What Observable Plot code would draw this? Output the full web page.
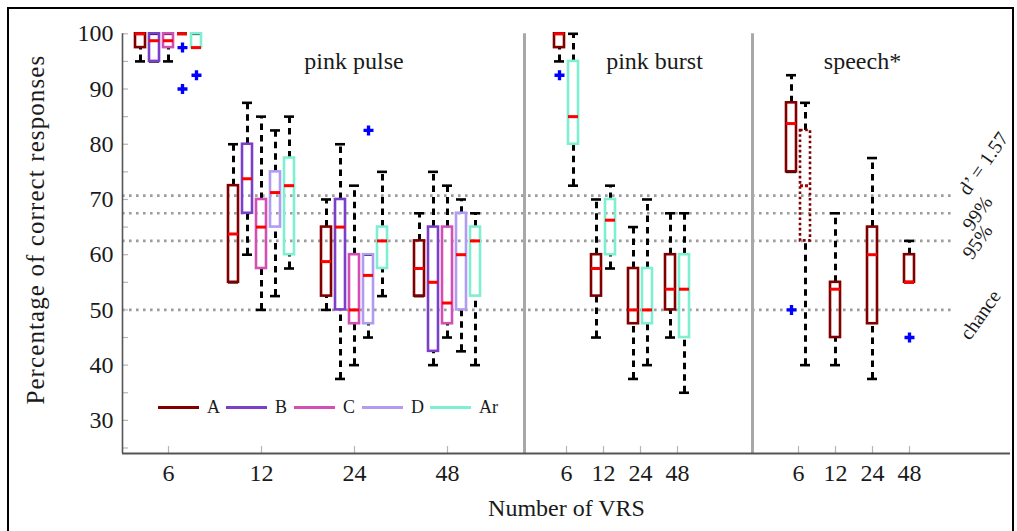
<!DOCTYPE html>
<html><head><meta charset="utf-8">
<script src="https://cdn.jsdelivr.net/npm/d3@7"></script>
<script src="https://cdn.jsdelivr.net/npm/@observablehq/plot@0.6"></script>
<style>
body{margin:0;background:#fff;}
#wrap{position:relative;width:1017px;height:531px;overflow:hidden;font-family:"Liberation Serif",serif;color:#1a1a1a;}
#chart{position:absolute;left:0;top:0;}
#border{position:absolute;left:7px;top:7px;width:1003px;height:600px;border:2.5px solid #000;pointer-events:none;}
.leg{position:absolute;display:flex;align-items:center;font-size:18px;line-height:18px;}
.leg svg{margin-right:8px;}
</style></head><body>
<div id="wrap"><div id="chart"></div><div id="border"></div><div id="legend"></div></div>
<script>
// ---------- data ----------
const vrsLabels = ["6", "12", "24", "48"];
const panelNames = ["pink pulse", "pink burst", "speech*"];
const seriesNames = ["A", "B", "C", "D", "Ar"];
const seriesColors = ["#800000", "#7b3fc8", "#d34fb4", "#b29cf2", "#7fefd2"];

// five-number summaries [min, q1, median, q3, max] per VRS (6, 12, 24, 48)
const pulseA  = [[95, 97.5, 100, 100, 100], [55, 55, 63.75, 72.5, 80], [50, 52.5, 58.75, 65, 70], [52.5, 52.5, 57.5, 62.5, 67.5]];
const pulseB  = [[95, 95, 98.75, 100, 100], [60, 67.5, 73.75, 80, 87.5], [37.5, 50, 65, 70, 80], [40, 42.5, 55, 65, 75]];
const pulseC  = [[95, 97.5, 98.75, 100, 100], [50, 57.5, 65, 70, 85], [40, 47.5, 50, 60, 72.5], [45, 47.5, 51.25, 65, 72.5]];
const pulseD  = [[100, 100, 100, 100, 100], [52.5, 65, 71.25, 75, 82.5], [45, 47.5, 56.25, 60, 60], [42.5, 50, 60, 67.5, 70]];
const pulseAr = [[97.5, 97.5, 97.5, 100, 100], [57.5, 60, 72.5, 77.5, 85], [52.5, 57.5, 62.5, 65, 75], [40, 52.5, 62.5, 65, 67.5]];
const burstA  = [[95, 97.5, 100, 100, 100], [45, 52.5, 57.5, 60, 70], [37.5, 47.5, 50, 57.5, 65], [45, 50, 53.75, 60, 67.5]];
const burstAr = [[72.5, 80, 85, 95, 100], [57.5, 60, 66.25, 70, 72.5], [40, 47.5, 50, 57.5, 70], [35, 45, 53.75, 60, 67.5]];
const speechA = [[75, 75, 83.75, 87.5, 92.5], [40, 45, 53.75, 55, 67.5], [37.5, 47.5, 60, 65, 77.5], [55, 55, 55, 60, 62.5]];
const speechA6Dotted = [40, 62.5, 72.5, 82.5, 87.5];

// outliers: [panel, vrs index, series, value]
const outliers = [
  [0, 0, "D", 97.5], [0, 0, "D", 90], [0, 0, "Ar", 92.5], [0, 2, "D", 82.5],
  [1, 0, "A", 92.5],
  [2, 0, "A", 50], [2, 3, "A", 45]
];

const refValues = [70.7, 67.5, 62.5, 50];
const refLabels = ["d\u2019 = 1.57", "99%", "95%", "chance"];
const yTicks = [30, 40, 50, 60, 70, 80, 90, 100];
const yMinorTicks = [25, 30, 35, 40, 45, 50, 55, 60, 65, 70, 75, 80, 85, 90, 95, 100];

// ---------- layout (x in panel units) ----------
const panelLayout = [
  {start: 0,   first: 46, step: 93, titleAt: 231.5},
  {start: 402, first: 42, step: 37, titleAt: 130},
  {start: 630, first: 46, step: 37, titleAt: 110}
];
const xEnd = 888, refEnd = 833, halfBox = 5, boxStep = 14;
const groupX = (p, i) => panelLayout[p].start + panelLayout[p].first + i * panelLayout[p].step;
const colorOf = name => seriesColors[seriesNames.indexOf(name)];

const boxes = [];
function addSeries(p, name, stats, offsetFn, dotted = false) {
  stats.forEach((s, i) => {
    const c = groupX(p, i) + offsetFn(i);
    boxes.push({p, i, name, c, min: s[0], q1: s[1], med: s[2], q3: s[3], max: s[4], color: colorOf(name), dotted});
  });
}
[pulseA, pulseB, pulseC, pulseD, pulseAr].forEach((arr, k) => addSeries(0, seriesNames[k], arr, () => (k - 2) * boxStep));
addSeries(1, "A", burstA, () => -boxStep / 2);
addSeries(1, "Ar", burstAr, () => boxStep / 2);
addSeries(2, "A", speechA, i => i === 0 ? -boxStep / 2 : 0);
addSeries(2, "A", [speechA6Dotted], () => boxStep / 2, true);

const boxCenter = (p, i, name) => boxes.find(d => d.p === p && d.i === i && d.name === name && !d.dotted).c;
const outlierRows = outliers.map(([p, i, name, v]) => ({x: boxCenter(p, i, name), y: v}));

const whiskers = [];
const caps = [];
boxes.forEach(b => {
  if (b.max > b.q3) whiskers.push({x: b.c, y1: b.q3, y2: b.max});
  if (b.min < b.q1) whiskers.push({x: b.c, y1: b.min, y2: b.q1});
  caps.push({x1: b.c - halfBox, x2: b.c + halfBox, y: b.max});
  caps.push({x1: b.c - halfBox, x2: b.c + halfBox, y: b.min});
});

const tickRows = [];
panelLayout.forEach((pl, p) => vrsLabels.forEach((lab, i) => tickRows.push({x: groupX(p, i), label: lab})));
const tickLabelMap = new Map(tickRows.map(d => [d.x, d.label]));
const dividers = [panelLayout[1].start, panelLayout[2].start];
const titles = panelNames.map((n, p) => ({x: panelLayout[p].start + panelLayout[p].titleAt, text: n}));

const refLabelStyle = [
  {dx: 6, dy: -32}, {dx: 0, dy: 0}, {dx: 0, dy: 1}, {dx: 3, dy: 5}
];

const solid = boxes.filter(b => !b.dotted), dotted = boxes.filter(b => b.dotted);
const tickLenY = 7 * 76 / 419.7;

const chart = Plot.plot({
  width: 1017, height: 531,
  marginLeft: 122, marginRight: 7, marginTop: 33.3, marginBottom: 78,
  x: {domain: [0, xEnd], axis: null},
  y: {domain: [24, 100], axis: null},
  style: {fontFamily: '"Liberation Serif", serif', fontSize: "24px", color: "#1a1a1a", background: "transparent"},
  marks: [
    // reference lines
    Plot.ruleY(refValues, {y: d => d, x1: 0, x2: refEnd, stroke: "#9c9c9c", strokeWidth: 2.6, strokeDasharray: "2.6,4.4"}),
    ...refLabels.map((t, k) => Plot.text([t], {x: 855, y: () => refValues[k], text: d => d, rotate: -55, fontSize: 20,
      dx: refLabelStyle[k].dx, dy: refLabelStyle[k].dy, fill: "#1a1a1a"})),
    // panel dividers
    Plot.ruleX(dividers, {x: d => d, y1: 24, y2: 100, stroke: "#a8a8a8", strokeWidth: 3}),
    // y minor/major ticks (inward)
    Plot.ruleY(yMinorTicks, {y: d => d, x1: 0, x2: 6, stroke: "#b5b5b5", strokeWidth: 1.2}),
    // x ticks (inward)
    Plot.ruleX(tickRows, {x: "x", y1: 24, y2: 24 + tickLenY, stroke: "#b5b5b5", strokeWidth: 1.2}),
    // axes lines
    Plot.ruleX([0], {y1: 24, y2: 100, stroke: "#555", strokeWidth: 1.6}),
    Plot.ruleY([24], {x1: 0, x2: xEnd, stroke: "#555", strokeWidth: 2}),
    Plot.axisY({ticks: yTicks, tickSize: 0, tickPadding: 9, fontSize: 24, label: null}),
    Plot.axisX({ticks: tickRows.map(d => d.x), tickFormat: d => tickLabelMap.get(d), tickSize: 0, tickPadding: 10, fontSize: 24, label: null}),
    // whiskers
    Plot.ruleX(whiskers, {x: "x", y1: "y1", y2: "y2", stroke: "#000", strokeWidth: 3, strokeDasharray: "6.5,5"}),
    Plot.ruleY(caps, {x1: "x1", x2: "x2", y: "y", stroke: "#000", strokeWidth: 2.6}),
    // boxes
    Plot.rect(solid, {x1: d => d.c - halfBox, x2: d => d.c + halfBox, y1: "q1", y2: "q3", stroke: "color", fill: "none", strokeWidth: 2.6}),
    Plot.rect(dotted, {x1: d => d.c - halfBox, x2: d => d.c + halfBox, y1: "q1", y2: "q3", stroke: "color", fill: "none", strokeWidth: 2.6, strokeDasharray: "2.6,2.6"}),
    Plot.ruleY(solid, {x1: d => d.c - halfBox, x2: d => d.c + halfBox, y: "med", stroke: "#ff0000", strokeWidth: 3}),
    Plot.ruleY(dotted, {x1: d => d.c - halfBox, x2: d => d.c + halfBox, y: "med", stroke: "#b00000", strokeWidth: 3, strokeDasharray: "3,2"}),
    // outliers
    Plot.dot(outlierRows, {x: "x", y: "y", symbol: "cross", fill: "#0000ff", r: 4.2}),
    // panel titles
    Plot.text(titles, {x: "x", y: () => 95.1, text: "text", fontSize: 24, fill: "#1a1a1a"}),
    // axis labels
    Plot.text(["Percentage of correct responses"], {frameAnchor: "left", textAnchor: "middle", lineAnchor: "middle", dx: -87, dy: -14, rotate: -90, fontSize: 25, text: d => d, fill: "#1a1a1a"}),
    Plot.text(["Number of VRS"], {frameAnchor: "bottom", lineAnchor: "middle", dy: 55, fontSize: 24, text: d => d, fill: "#1a1a1a"})
  ]
});
document.getElementById("chart").appendChild(chart);
d3.select(chart).selectAll("text").filter(function() { return this.textContent === "Percentage of correct responses"; })
  .attr("letter-spacing", "1.1px");

// legend (inside plot area)
const legend = document.getElementById("legend");
seriesNames.forEach((n, k) => {
  const el = document.createElement("div");
  el.className = "leg";
  el.style.left = (158 + k * 68) + "px";
  el.style.top = "398px";
  el.innerHTML = `<svg width="41" height="18"><line x1="0" x2="41" y1="9.5" y2="9.5" stroke="${seriesColors[k]}" stroke-width="3"/></svg><span>${n}</span>`;
  legend.appendChild(el);
});
</script>
</body></html>
